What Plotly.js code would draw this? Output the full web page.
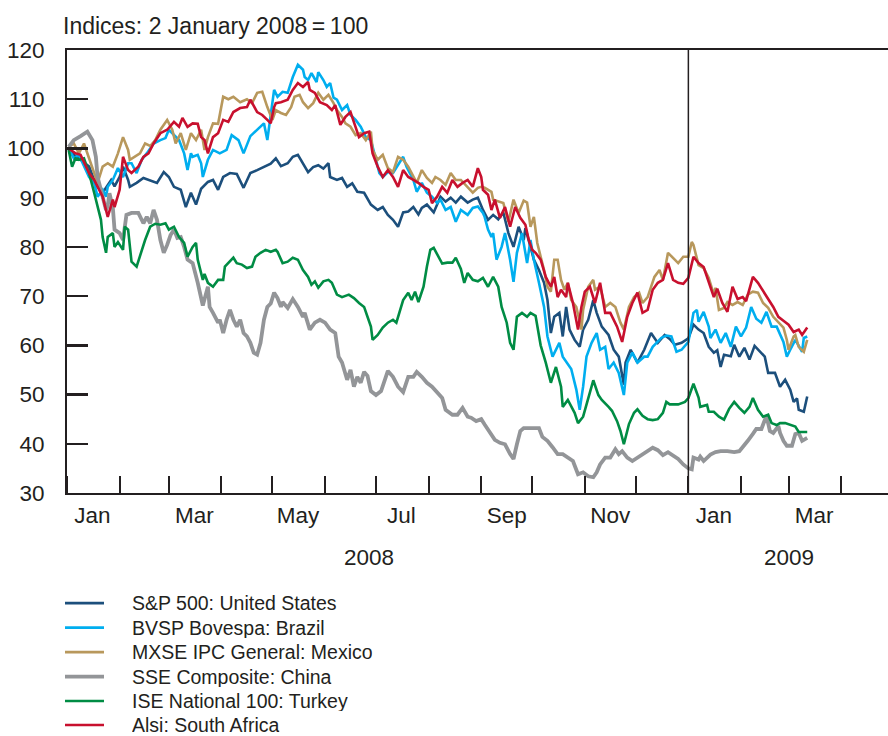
<!DOCTYPE html>
<html>
<head>
<meta charset="utf-8">
<script src="https://cdn.plot.ly/plotly-3.0.1.min.js"></script>
<style>
  html, body { margin: 0; padding: 0; background: #ffffff; }
  #chart { width: 888px; height: 736px; }
</style>
</head>
<body>
<div id="chart"></div>
<script>
// Days are counted from 1 January 2008 (day 1 = 2 January 2008). Values: index, 2 January 2008 = 100.
const seriesNames = ["S&P 500: United States", "BVSP Bovespa: Brazil", "MXSE IPC General: Mexico",
                     "SSE Composite: China", "ISE National 100: Turkey", "Alsi: South Africa"];

const spDays = [1,4,7,13,16,18,21,26,28,31,33,36,37,41,45,49,53,57,60,63,67,70,73,76,79,83,86,89,92,96,100,104,108,112,116,120,123,126,130,133,136,139,142,145,148,151,154,155,159,162,165,168,171,175,179,183,186,189,192,195,198,201,204,207,209,212,216,220,223,226,229,232,236,239,242,245,248,251,254,257,260,263,266,269,270,273,275,278,281,283,285,287,290,292,294,296,299,302,304,307,310,312,315,319,322,325,328,329,332,336,340,344,348,352,355,358,362,366,369,372,375,378,381,383,385,387,391,393,396,399,402,405,408,411,413,417,420,423,426,428,430,431,434,436];
const spVals = [99.7,98.7,98,96.3,93.6,92.2,91,93.6,92.3,94.2,96.3,93.6,92.2,93,94,93.5,93,95.2,94.2,92.2,91.6,88.1,91,88.6,91.8,93.2,93.6,91.6,94.2,95,94.8,92,95,95.6,96.3,96.9,98,96.4,97,98.3,98.7,97,95.2,96.2,96.6,95.9,97,94.2,93.6,94,92.2,92.9,91.2,91,88.6,87.5,88.1,86.5,85.5,84.1,87,87.2,88.1,86.6,87.9,88.6,87,90.2,89.2,90,89,90.2,89,89.6,90,87.5,85.5,86.5,85.6,87,82.8,80,84.1,81.4,83.8,80,77.4,75.3,72.7,69.2,62.5,65.8,66.6,61.8,67.8,63.2,61.1,59.7,63.2,65.2,69.2,66.6,63.8,62.1,59.1,57.7,52,56.5,59.1,56.5,59.1,62.5,60.5,62.1,61.3,60.1,60.5,61.4,64.2,63.2,62.5,59.7,58.5,59,55.6,58.1,57.8,60.1,57.7,59.5,57.1,59.9,58.7,57.7,54.4,54.4,51.6,53,51,48.5,49.2,46.9,46.5,49.6];

const bvDays = [1,4,7,10,13,16,18,21,23,24,27,30,33,36,38,41,44,47,51,55,58,60,63,66,69,71,73,74,77,79,80,83,86,90,94,97,101,104,108,112,116,118,122,124,127,130,133,136,139,140,142,144,147,148,151,153,155,157,159,162,165,167,170,173,176,179,180,184,186,189,192,195,198,200,202,204,206,209,212,215,218,220,223,226,229,232,236,239,242,245,246,248,250,251,253,256,258,261,263,265,268,271,273,275,278,281,283,286,290,292,297,300,302,304,306,309,312,314,317,319,322,325,328,330,333,336,340,342,345,350,353,356,359,362,366,369,371,372,375,378,379,382,385,388,391,394,397,400,403,406,409,412,415,418,422,424,426,429,433,434,436];
const bvVals = [100,98,98.7,96.3,94.2,93,90.2,91.6,90.2,92.2,93.6,96,94.2,97,97,95,97.7,99,101,101.7,102.1,103.8,102.7,101.7,99,95.6,99,98.3,98.7,97,94.2,97.7,99.7,99,99.7,102.7,101.7,99,102.5,103.8,105.1,101.7,111.9,110.5,111.5,111.3,114.5,117,116,114.5,113.9,115.3,113.5,115.5,113.9,112.5,113.3,110.3,109.9,107.8,108.8,106.8,105.8,104.4,102.3,101.7,100.3,95,94.2,95.2,95,96.6,98.3,96.3,95,93.6,91.2,93,91,90.2,88.9,89.6,87.5,88.1,85.1,87.5,86.5,87.9,88.2,86.9,86.1,83.5,82,82.8,77.4,80,82.8,77.4,72.9,78.8,82.8,76.7,81.4,77.4,72.7,67.8,61.8,57.7,60.5,57.7,55.2,51,46.9,51.6,57.7,60.5,62.5,59.1,59.7,55.2,56.5,54.4,49.9,56.5,58.5,56.5,57.7,57.7,59.7,61.5,62,61.8,58.7,59.1,60.7,66.6,67.2,64.8,66.8,63.8,61.5,63.2,60.5,62.5,59.7,63.8,61.8,63.6,67.8,65.4,64.6,66.8,63.8,63.8,60.7,57.7,59.1,61.1,58.7,61.5,61.8];

const mxDays = [1,4,7,10,13,16,18,21,24,27,30,33,36,37,40,43,46,49,52,55,59,62,64,67,70,73,76,79,81,83,86,89,92,95,98,102,106,109,112,115,118,121,123,126,129,132,134,137,139,142,145,148,151,154,157,159,162,164,167,170,173,176,179,180,183,186,189,192,195,198,201,203,206,209,212,215,217,220,223,226,229,232,236,239,242,244,246,250,251,254,257,260,263,266,269,271,273,275,277,279,281,283,285,287,289,291,293,295,297,300,303,304,307,310,311,314,317,320,323,326,328,331,334,337,339,342,346,349,351,354,357,360,363,366,368,369,372,375,378,381,382,384,387,389,392,395,398,401,404,407,410,413,416,419,422,424,425,428,429,431,434,436];
const mxVals = [100.3,101,99,101,98,95,93,96.3,97,96.3,99,102.3,99.7,97.7,98.3,99,101,100.5,101.7,103.8,105.8,103.8,101,103.1,99.7,103.1,101.7,103.8,99.7,102.3,105.1,105,110.5,110,110.5,109.4,110,109.2,111.3,111.5,108.4,105.8,107.8,107.2,106.8,108.4,110.5,110.9,109.4,108.2,109.2,111.3,109.9,110.9,109.2,107.8,106.4,105.1,104.4,102.7,103.1,101.7,103.4,99.7,97.7,98.7,96,95.2,98.3,97.7,96.3,95,93,95.6,94,93,94.2,93.6,92.6,95,93.6,93.6,92.2,91,92,92.2,92,91.2,89.6,89.2,88.9,85.1,89.6,86.9,89.4,89,84.1,86.1,80.8,78,75.3,71.9,70.9,77.4,77.4,73.3,71.3,72.7,69.2,67.8,63.2,67.2,71.9,73.3,71.3,71.9,67.8,68.6,67.8,64.6,63.2,67.8,69.8,70.7,68.6,69.8,73.9,75.3,73.3,78.8,77.8,76.7,78,78,81,80.4,76.3,75.7,73.7,70.3,71.7,67.2,67.6,68.8,68.2,68.8,68.2,70.3,70.9,70.7,68.6,67.6,65.8,64.6,63.6,61.1,59.1,61.8,62.1,59.7,58.7,61.1];

const cnDays = [1,4,8,12,15,17,18,21,23,24,25,27,28,31,33,35,38,42,45,47,49,51,53,55,57,59,61,63,65,67,69,71,74,77,79,80,83,84,86,89,90,92,94,96,98,100,102,104,106,108,110,112,114,116,118,120,122,124,126,127,130,133,136,139,140,143,146,149,152,155,158,160,162,165,167,169,171,173,175,177,179,182,185,188,189,192,195,198,201,204,206,209,212,215,218,221,223,227,230,233,236,238,241,244,246,250,252,255,258,261,263,265,267,269,273,278,280,283,286,289,292,295,298,301,304,307,310,312,314,317,320,323,325,327,330,333,336,339,342,345,348,351,354,357,360,363,366,368,369,372,373,375,377,379,382,385,389,393,396,399,401,404,406,409,412,414,416,419,420,422,424,427,429,431,433,436];
const cnVals = [100.3,101.7,102.5,103.4,101.7,98.3,94.2,90.2,87.5,88.3,90.9,88,83.5,82.8,81.4,86.5,86.9,86.9,84.8,86.1,84.8,87.5,85.5,81.4,78.8,80.4,82.4,83.5,81.8,82,80,77.4,76.7,72.7,69.4,68.1,71.9,67.8,66.6,64.6,65.2,62.5,65.2,67.2,65.2,63.8,65.2,62.5,61.8,60.5,58.5,58.1,60.5,65.2,67.8,68.5,70.7,69.6,67.8,68.8,67.6,69.4,67.8,65.8,66.6,63.2,64.6,65.2,64.6,63.2,62.5,57.7,56.5,53,55,51.6,53.6,52.4,54.6,53.8,50.7,49.9,50.7,53.6,54.8,53.6,51.6,50.5,53.6,53.6,54.6,53.6,52.4,51.6,50.3,49.3,46.9,45.9,45.9,47.3,45.5,45.3,44.6,45,43.9,42,40.8,40.2,39.9,37.9,36.9,39.9,42.6,43.2,43.2,43.2,41.4,40.6,39.3,37.9,37.9,37.2,36.5,33.8,34.2,33.4,33.2,34.2,35.8,37.2,37.2,38.9,37.9,38.5,37.2,36.5,37.2,37.9,38.5,39.2,38.7,37.7,38.3,37.7,36.9,35.8,35,34.8,37.2,36.8,37.4,36.5,37.2,37.8,38.3,38.5,38.5,38.3,38.5,39.6,40.6,42,43,43,45.7,42.6,42.2,43.6,42.2,40.6,39.6,39.6,42,42.2,40.6,41.2];

const trDays = [1,3,5,7,10,13,16,18,20,21,23,24,27,28,30,33,34,36,38,41,44,46,49,52,55,58,60,63,66,69,71,74,76,77,80,81,83,86,89,92,93,96,98,100,103,106,109,111,114,117,120,123,124,127,130,133,136,139,142,144,146,148,151,154,156,159,162,166,169,172,175,177,179,180,183,186,189,192,194,198,199,201,203,205,207,210,212,214,216,218,221,224,227,229,232,234,236,239,242,245,248,251,254,256,259,261,263,265,268,271,273,276,279,282,285,288,291,292,295,299,301,304,307,310,313,315,319,321,324,326,328,331,334,336,339,342,345,348,351,353,355,360,364,366,369,372,373,377,378,381,384,387,390,393,396,399,402,404,407,410,413,415,418,420,423,426,429,431,433,436];
const trVals = [99.7,96.3,98,97.7,98,95,91,88.1,85.5,82,78.8,82,82.8,80,81,79.4,84.1,83.5,77,76,79.4,81.4,84.1,84.7,84.5,84.8,83.5,84.1,82,80.8,78,80,80.8,77.4,73.3,74.5,72.7,71.9,73.3,73.3,76,77,77.8,76.7,76.4,75.7,76,78,78.8,79.4,79,79.4,79,76.7,77,77.8,77.4,75.3,73.9,72.3,73,71.7,73,73.3,72.7,70.3,69.8,70.3,69.6,68.6,67.8,65.8,63.8,61.1,62.1,63.6,64.6,65.2,64.6,69.2,69.8,70.7,69.2,70.9,68.8,71.9,76,79.4,79.8,78.4,76.6,76.8,76.8,77.8,75.5,72.7,74.7,73.3,73,73.7,71.9,73.9,71.9,67.8,64.6,60.5,59.1,65.8,66.6,65.8,66.6,66,60,56.5,52.4,55.6,51.6,47.5,48.9,46.3,44.2,45.5,49.5,52.9,49.9,48.9,47.5,46.7,44.6,42.6,39.9,44,46.3,47,45.7,45,44.8,45,46.3,48.5,48,48,48.5,49.3,52.2,49.4,47.5,47.9,46.5,46.5,45.5,44.9,47.1,48.5,47.3,46.3,47.5,49.3,46.9,45.5,45.9,44.2,43.8,44.2,44.2,43.8,43.5,42.4,42.4,42.4];

const zaDays = [1,5,8,11,13,16,18,21,24,27,28,31,33,36,38,42,45,48,51,55,59,63,66,68,71,74,77,79,81,83,86,89,92,95,98,102,106,108,112,115,118,120,122,123,126,130,133,136,139,142,143,146,149,153,156,158,161,164,167,170,172,175,178,180,183,186,189,192,195,198,201,204,207,210,213,215,218,221,224,227,230,233,236,239,242,244,245,248,250,252,255,258,261,264,267,270,272,274,276,279,282,285,287,289,291,294,295,298,301,303,305,308,311,314,317,320,324,327,330,333,336,339,342,345,348,351,354,357,360,363,366,369,372,375,378,381,383,386,389,392,395,398,400,403,404,407,410,413,416,419,422,425,428,431,433,436];
const zaVals = [100,99,98.7,96.6,95,93.6,92.2,90.2,86.1,89.6,88.1,91.6,98.3,95.6,95,96.3,98.3,99,101,103.1,103.8,105.4,104.4,106.2,104.4,105.1,105,102.3,101.7,99,102.3,103.1,105.8,105.4,107.4,108.2,108.4,109.9,107.4,106.8,105.8,105.1,108.4,109.2,109.4,109.9,111.9,113.3,112.5,113.5,111.9,111.3,109.4,108.8,107.8,108.8,104.8,106.4,107.4,104.4,102.3,103.1,103.4,99,96.3,94.2,95.6,94.2,92.2,95.6,94.2,93.6,93,92.2,91.6,88.9,90.2,92.2,91,93.6,92.2,93,93.6,92.2,96,94.2,91.6,90.6,87.5,89.6,85.9,88.1,84.1,88.1,85.9,84.5,81.4,79.4,78.8,77.4,73.9,71.9,73.9,69.8,71.3,69.8,72.7,68.6,63.2,67.8,70.9,71.9,68.6,72.7,66.6,66.6,63.8,60.7,65.8,68.6,70.7,66.6,67.2,71.3,72.7,73.3,76.7,73.3,72.7,72.5,73.7,78,76.7,75.9,72.9,69.8,71.5,68.6,66.8,71.9,69.4,69.8,69,72.7,73.9,72.7,70.9,69.4,67.8,65.8,65,64.2,62.7,63.2,62.1,63.6];

const seriesDays = [spDays, bvDays, mxDays, cnDays, trDays, zaDays];
const seriesVals = [spVals, bvVals, mxVals, cnVals, trVals, zaVals];
const seriesColors = ["#1c4f7c", "#00aeef", "#b8985c", "#939598", "#008c44", "#c8102e"];
const seriesWidths = [2.6, 2.6, 2.6, 3.8, 2.6, 2.6];

const monthStarts = ["2008-01-01","2008-02-01","2008-03-01","2008-04-01","2008-05-01","2008-06-01","2008-07-01",
  "2008-08-01","2008-09-01","2008-10-01","2008-11-01","2008-12-01","2009-01-01","2009-02-01","2009-03-01","2009-04-01"];
const monthLabelDates = ["2008-01-16","2008-03-16","2008-05-16","2008-07-16","2008-09-16","2008-11-16","2009-01-16","2009-03-16"];
const monthLabels = ["Jan","Mar","May","Jul","Sep","Nov","Jan","Mar"];
const yearLabels = ["2008", "2009"];
const yearLabelDates = ["2008-06-27", "2009-03-01"];
const yTicks = [30,40,50,60,70,80,90,100,110,120];

function dayToDate(d) {
  return new Date(Date.UTC(2008, 0, 1) + d * 86400000).toISOString().slice(0, 10);
}

const ink = "#231f20";
const fontFam = "'Liberation Sans', Arial, Helvetica, sans-serif";

// plot area in pixels (for placing the hand-made legend below the plot)
const plotL = 67, plotW = 821, plotB = 493.3, plotH = 443.3;
const px2x = p => (p - plotL) / plotW;
const px2y = p => (plotB - p) / plotH;

const traces = seriesNames.map((name, i) => ({
  type: "scatter",
  mode: "lines",
  name: name,
  x: seriesDays[i].map(dayToDate),
  y: seriesVals[i],
  line: { color: seriesColors[i], width: seriesWidths[i] },
  hoverinfo: "skip",
  showlegend: false
}));

const legendRows = [603.5, 628, 652.5, 677, 701.5, 725.5];
const legendShapes = seriesNames.map((n, i) => ({
  type: "line", xref: "paper", yref: "paper",
  x0: px2x(65), x1: px2x(104), y0: px2y(legendRows[i]), y1: px2y(legendRows[i]),
  line: { color: seriesColors[i], width: seriesWidths[i] }
}));
const legendTexts = seriesNames.map((n, i) => ({
  text: n.replace("&", "&amp;"), xref: "paper", yref: "paper",
  x: px2x(131), y: px2y(legendRows[i]), xanchor: "left", yanchor: "middle",
  height: 20, valign: "middle", borderpad: 0,
  showarrow: false, font: { size: 19.5, color: ink }
}));

const layout = {
  width: 888,
  height: 736,
  margin: { l: 67, r: 0, t: 50, b: 243 },
  paper_bgcolor: "#ffffff",
  plot_bgcolor: "#ffffff",
  font: { family: fontFam, size: 22, color: ink },
  title: {
    text: "Indices: 2 January 2008\u2009=\u2009100",
    x: 63 / 888, xanchor: "left", xref: "container",
    y: 1 - 26 / 736, yanchor: "middle", yref: "container",
    font: { size: 23, color: ink }
  },
  showlegend: false,
  xaxis: {
    type: "date",
    range: ["2008-01-01", "2009-04-28 14:00"],
    showgrid: false,
    zeroline: false,
    showline: true,
    mirror: true,
    linecolor: ink,
    linewidth: 2,
    tickmode: "array",
    tickvals: monthLabelDates,
    ticktext: monthLabels,
    ticks: "",
    tickfont: { size: 22.5, color: ink },
    ticklabelstandoff: 1,
    minor: {
      tickmode: "array",
      tickvals: monthStarts,
      ticks: "inside",
      ticklen: 17,
      tickwidth: 2,
      tickcolor: ink,
      showgrid: false
    },
    fixedrange: true
  },
  yaxis: {
    range: [30, 120],
    showgrid: false,
    zeroline: false,
    showline: true,
    linecolor: ink,
    linewidth: 2,
    tickmode: "array",
    tickvals: yTicks,
    ticks: "inside",
    ticklen: 21,
    tickwidth: 2.5,
    tickcolor: ink,
    tickfont: { size: 22.5, color: ink },
    ticklabelstandoff: 16,
    fixedrange: true
  },
  shapes: [{
    type: "line", xref: "x", yref: "y",
    x0: "2009-01-01", x1: "2009-01-01", y0: 30, y1: 120,
    line: { color: ink, width: 1.5 }
  }].concat(legendShapes),
  annotations: yearLabels.map((t, i) => ({
    text: t, xref: "x", yref: "paper",
    x: yearLabelDates[i], y: px2y(558), yanchor: "middle", xanchor: "center",
    showarrow: false, font: { size: 22.5, color: ink }
  })).concat(legendTexts)
};

Plotly.newPlot("chart", traces, layout, { displayModeBar: false, staticPlot: true });
</script>
</body>
</html>
